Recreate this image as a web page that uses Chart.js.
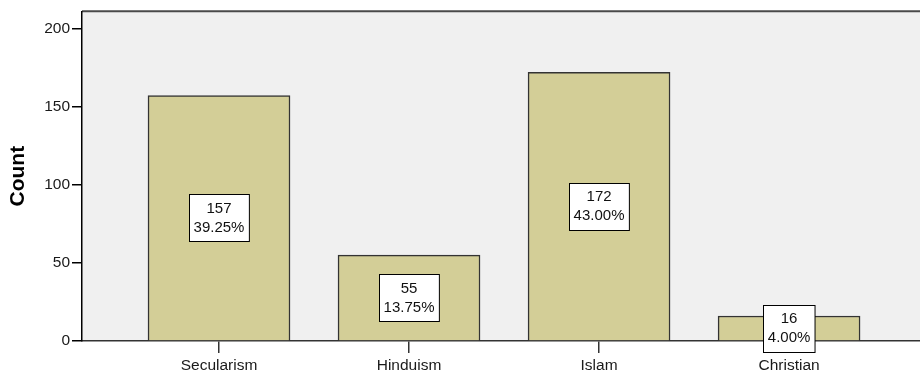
<!DOCTYPE html>
<html>
<head>
<meta charset="utf-8">
<script src="https://cdn.jsdelivr.net/npm/chart.js@4/dist/chart.umd.min.js"></script>
<style>
html,body{margin:0;padding:0;background:#fff;}
#wrap{width:920px;height:376px;position:relative;}
</style>
</head>
<body>
<div id="wrap"><canvas id="c" width="920" height="376"></canvas></div>
<script>
const categories = ["Secularism", "Hinduism", "Islam", "Christian"];
const counts = [157, 55, 172, 16];
const percents = [39.25, 13.75, 43.00, 4.00];
const yTicks = [0, 50, 100, 150, 200];

const FONT = "'Liberation Sans', Arial, sans-serif";

const points = counts.map((v, i) => ({x: i + 1, y: v}));

const bgPlugin = {
  id: 'bg',
  beforeDraw(chart) {
    const {ctx, chartArea: a} = chart;
    ctx.save();
    ctx.fillStyle = '#F0F0F0';
    ctx.fillRect(a.left, a.top, a.right - a.left, a.bottom - a.top);
    ctx.strokeStyle = '#4a4a4a';
    ctx.lineWidth = 2;
    ctx.beginPath();
    ctx.moveTo(a.left, a.top);
    ctx.lineTo(a.right, a.top);
    ctx.stroke();
    ctx.restore();
  }
};

const boxPlugin = {
  id: 'boxes',
  afterDatasetsDraw(chart) {
    const {ctx} = chart;
    const meta = chart.getDatasetMeta(0);
    ctx.save();
    ctx.font = '15px ' + FONT;
    meta.data.forEach((bar, i) => {
      const l1 = String(counts[i]);
      const l2 = percents[i].toFixed(2) + '%';
      const w = Math.max(ctx.measureText(l1).width, ctx.measureText(l2).width) + 9;
      const h = 47;
      const cx = bar.x;
      const cy = (bar.y + bar.base) / 2;
      const x0 = Math.round(cx - w / 2) + 0.5;
      const y0 = Math.round(cy - h / 2) + 0.5;
      ctx.fillStyle = '#ffffff';
      ctx.fillRect(x0, y0, w, h);
      ctx.strokeStyle = '#000000';
      ctx.lineWidth = 1;
      ctx.strokeRect(x0, y0, w, h);
      ctx.fillStyle = '#111111';
      ctx.textAlign = 'center';
      ctx.textBaseline = 'middle';
      ctx.fillText(l1, cx, cy - 9);
      ctx.fillText(l2, cx, cy + 10);
    });
    ctx.restore();
  }
};

new Chart(document.getElementById('c'), {
  type: 'bar',
  data: {
    datasets: [{
      data: points,
      backgroundColor: '#D3CE97',
      borderColor: '#333333',
      borderWidth: 1.5,
      barThickness: 142
    }]
  },
  options: {
    responsive: false,
    animation: false,
    events: [],
    layout: {padding: {top: 11, right: 0, left: 6, bottom: 0}},
    plugins: {legend: {display: false}, tooltip: {enabled: false}},
    scales: {
      x: {
        type: 'linear',
        offset: false,
        min: 0.279,
        max: 4.689,
        afterBuildTicks(scale) { scale.ticks = categories.map((c, i) => ({value: i + 1})); },
        afterFit(scale) { scale.height = 35; },
        ticks: {
          callback: (v) => categories[v - 1] || '',
          font: {family: FONT, size: 15.5},
          color: '#1a1a1a',
          padding: 3,
          maxRotation: 0,
          autoSkip: false
        },
        grid: {display: true, offset: false, drawOnChartArea: false, drawTicks: true, tickLength: 12, color: '#333333', lineWidth: 1.5},
        border: {display: true, color: '#333333', width: 1.5}
      },
      y: {
        min: 0,
        max: 211,
        afterBuildTicks(scale) { scale.ticks = yTicks.map(v => ({value: v})); },
        afterFit(scale) { scale.width = 76; },
        ticks: {
          font: {family: FONT, size: 15.5},
          color: '#1a1a1a',
          padding: 2
        },
        grid: {display: true, drawOnChartArea: false, drawTicks: true, tickLength: 10, color: '#000000', lineWidth: 1.5},
        border: {display: true, color: '#000000', width: 1.5},
        title: {
          display: true,
          text: 'Count',
          font: {family: FONT, size: 21, weight: 'bold'},
          color: '#000000',
          padding: {top: 0, bottom: 0}
        }
      }
    }
  },
  plugins: [bgPlugin, boxPlugin]
});
</script>
</body>
</html>
